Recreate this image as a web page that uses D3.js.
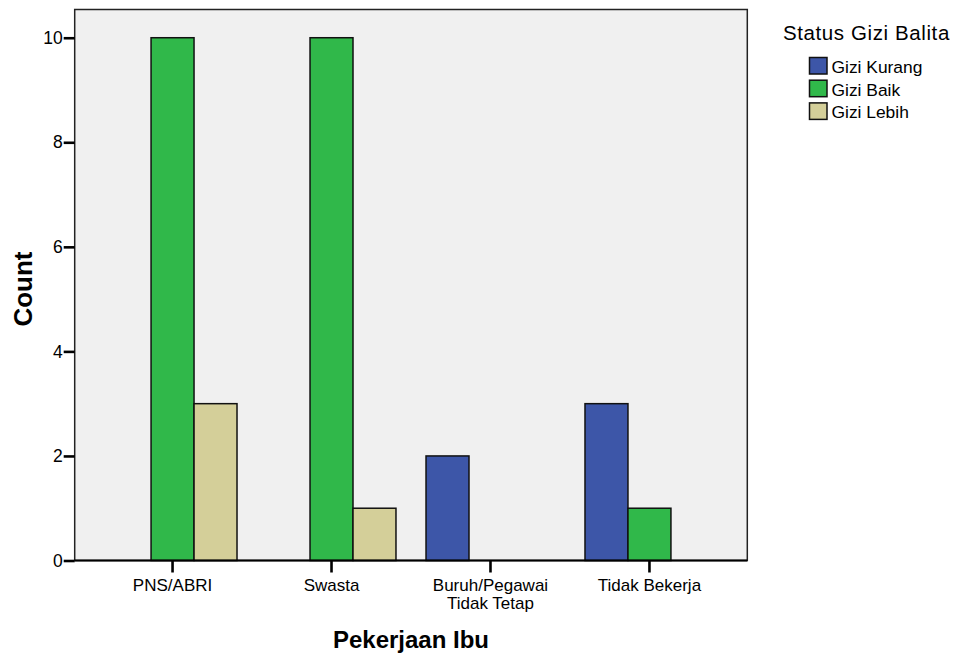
<!DOCTYPE html>
<html lang="id">
<head>
<meta charset="UTF-8" />
<title>Pekerjaan Ibu vs Status Gizi Balita</title>
<script src="https://d3js.org/d3.v7.min.js"></script>
<style>
    body { margin: 0; background: #fff; }
    text { font-family: "Liberation Sans", Arial, sans-serif; fill: #000; }
</style>
</head>
<body>
<svg id="chart" width="958" height="656"></svg>
<script>
    // data
    const categories = ["PNS/ABRI", "Swasta", "Buruh/Pegawai Tidak Tetap", "Tidak Bekerja"];
    const series = ["Gizi Kurang", "Gizi Baik", "Gizi Lebih"];
    const giziKurang = [0, 0, 2, 3];
    const giziBaik = [10, 10, 0, 1];
    const giziLebih = [3, 1, 0, 0];
    const yTicks = [0, 2, 4, 6, 8, 10];
    const colors = ["#3d56a8", "#30b84a", "#d4cf99"];

    const values = [giziKurang, giziBaik, giziLebih];

    const svg = d3.select("#chart");
    const plotLeft = 74.7, plotRight = 747.3, plotTop = 9.5, plotBottom = 560.5;

    const x = d3.scaleBand()
        .domain(categories)
        .range([plotLeft, plotRight])
        .paddingInner(0.189)
        .paddingOuter(0.21);

    const xs = d3.scaleBand()
        .domain(series)
        .range([0, x.bandwidth()]);

    const y = d3.scaleLinear()
        .domain([0, 10.54])
        .range([plotBottom, plotTop]);

    // plot background
    svg.append("rect")
        .attr("x", plotLeft).attr("y", plotTop)
        .attr("width", plotRight - plotLeft).attr("height", plotBottom - plotTop)
        .attr("fill", "#f0f0f0")
        .attr("stroke", "#222")
        .attr("stroke-width", 1.5);

    // bars
    const groups = svg.selectAll("g.cat")
        .data(categories)
        .enter().append("g")
        .attr("class", "cat")
        .attr("transform", d => `translate(${x(d)},0)`);

    groups.selectAll("rect")
        .data((c, i) => series.map((s, j) => ({ s: s, v: values[j][i], c: colors[j] })).filter(d => d.v > 0))
        .enter().append("rect")
        .attr("x", d => xs(d.s))
        .attr("width", xs.bandwidth())
        .attr("y", d => y(d.v))
        .attr("height", d => y(0) - y(d.v))
        .attr("fill", d => d.c)
        .attr("stroke", "#111")
        .attr("stroke-width", 1.5);

    // y axis
    const yAxis = svg.append("g")
        .attr("transform", `translate(${plotLeft},0)`)
        .call(d3.axisLeft(y).tickValues(yTicks).tickSize(11).tickPadding(1));
    yAxis.select(".domain").remove();
    yAxis.selectAll(".tick line").attr("stroke", "#000").attr("stroke-width", 2.6);
    yAxis.selectAll(".tick text").attr("font-size", 17.5).attr("fill", "#000")
        .attr("font-family", "Liberation Sans, Arial, sans-serif");

    // x axis
    const xAxis = svg.append("g")
        .attr("transform", `translate(0,${plotBottom})`)
        .call(d3.axisBottom(x).tickSize(12).tickFormat(""));
    xAxis.select(".domain").attr("stroke", "#000").attr("stroke-width", 2).attr("d", `M${plotLeft},0H${plotRight}`);
    xAxis.selectAll(".tick line").attr("stroke", "#000").attr("stroke-width", 2.6);

    // category labels (wrapped like SPSS)
    const labelLines = {
        "PNS/ABRI": ["PNS/ABRI"],
        "Swasta": ["Swasta"],
        "Buruh/Pegawai Tidak Tetap": ["Buruh/Pegawai", "Tidak Tetap"],
        "Tidak Bekerja": ["Tidak Bekerja"]
    };
    categories.forEach(c => {
        labelLines[c].forEach((line, i) => {
            svg.append("text")
                .attr("x", x(c) + x.bandwidth() / 2)
                .attr("y", plotBottom + 30 + i * 18)
                .attr("text-anchor", "middle")
                .attr("font-size", 17)
                .text(line);
        });
    });

    // axis titles
    svg.append("text")
        .attr("x", (plotLeft + plotRight) / 2)
        .attr("y", 648)
        .attr("text-anchor", "middle")
        .attr("font-size", 24)
        .attr("font-weight", "bold")
        .text("Pekerjaan Ibu");

    svg.append("text")
        .attr("transform", `translate(32,${(plotTop + plotBottom) / 2 + 4}) rotate(-90)`)
        .attr("text-anchor", "middle")
        .attr("font-size", 26)
        .attr("font-weight", "bold")
        .text("Count");

    // legend
    svg.append("text")
        .attr("x", 783)
        .attr("y", 40)
        .attr("font-size", 20.5)
        .attr("letter-spacing", 0.6)
        .text("Status Gizi Balita");

    const legend = svg.selectAll("g.leg")
        .data(series)
        .enter().append("g")
        .attr("class", "leg")
        .attr("transform", (d, i) => `translate(809.5,${57.5 + i * 22.7})`);

    legend.append("rect")
        .attr("width", 17.5)
        .attr("height", 16.5)
        .attr("fill", (d, i) => colors[i])
        .attr("stroke", "#111")
        .attr("stroke-width", 1.5);

    legend.append("text")
        .attr("x", 22)
        .attr("y", 15.5)
        .attr("font-size", 17.4)
        .text(d => d);
</script>
</body>
</html>
